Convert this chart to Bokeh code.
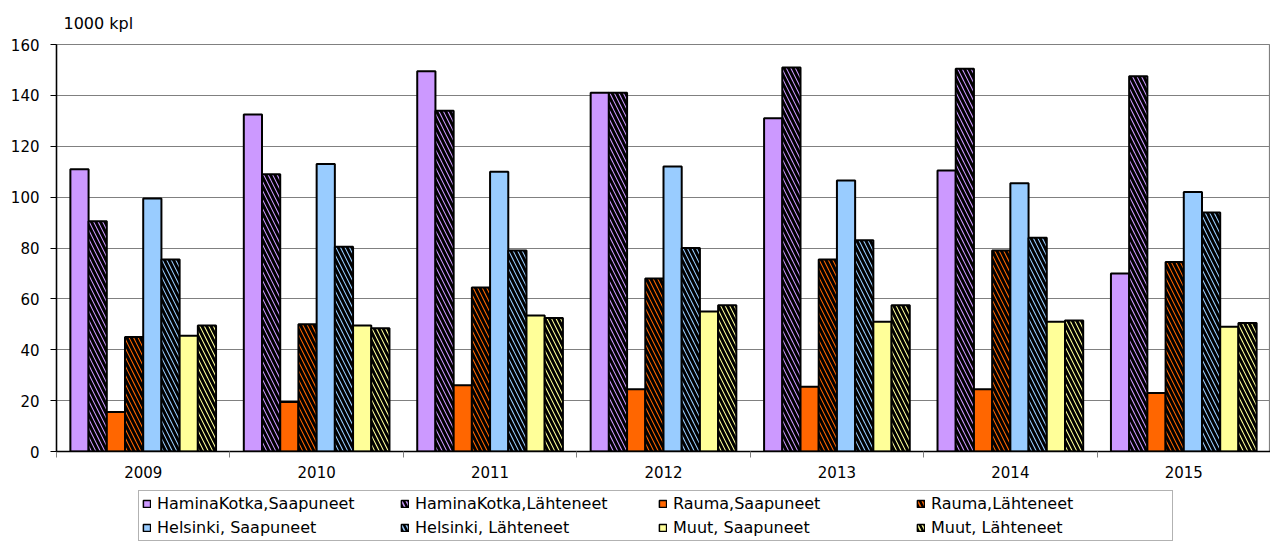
from bokeh.plotting import figure
from bokeh.layouts import column
from bokeh.models import (ColumnDataSource, Range1d, FixedTicker, Legend, LegendItem, Title)
from bokeh.transform import dodge
from bokeh.embed import file_html
from bokeh.resources import INLINE

years = ["2009", "2010", "2011", "2012", "2013", "2014", "2015"]
hk_saap = [111, 132.5, 149.5, 141, 131, 110.5, 70]
hk_laht = [90.5, 109, 134, 141, 151, 150.5, 147.5]
rauma_saap = [15.5, 19.5, 26, 24.5, 25.5, 24.5, 23]
rauma_laht = [45, 50, 64.5, 68, 75.5, 79, 74.5]
hel_saap = [99.5, 113, 110, 112, 106.5, 105.5, 102]
hel_laht = [75.5, 80.5, 79, 80, 83, 84, 94]
muut_saap = [45.5, 49.5, 53.5, 55, 51, 51, 49]
muut_laht = [49.5, 48.5, 52.5, 57.5, 57.5, 51.5, 50.5]

series = [
    ("HaminaKotka,Saapuneet", hk_saap, "#CC99FF", False),
    ("HaminaKotka,Lähteneet", hk_laht, "#CC99FF", True),
    ("Rauma,Saapuneet", rauma_saap, "#FF6600", False),
    ("Rauma,Lähteneet", rauma_laht, "#FF6600", True),
    ("Helsinki, Saapuneet", hel_saap, "#99CCFF", False),
    ("Helsinki, Lähteneet", hel_laht, "#99CCFF", True),
    ("Muut, Saapuneet", muut_saap, "#FFFF99", False),
    ("Muut, Lähteneet", muut_laht, "#FFFF99", True),
]

xc = [i + 0.5 for i in range(len(years))]
data = {"xc": xc}
for k, (name, vals, col, h) in enumerate(series):
    data["s%d" % k] = vals
src = ColumnDataSource(data)

FONT = "DejaVu Sans"
W = 1270

p = figure(width=W, height=483, output_backend="svg", toolbar_location=None,
           x_range=Range1d(0, len(years)), y_range=Range1d(0, 160),
           min_border_left=56, min_border_right=0, min_border_top=42, min_border_bottom=32)

p.title = Title(text="1000 kpl", align="left", offset=7, standoff=23,
                text_font=FONT, text_font_size="16px", text_font_style="normal",
                text_color="black")

bw = 0.105
HATCH = dict(hatch_pattern="\\", hatch_color="black", hatch_weight=3, hatch_scale=9)
for k, (name, vals, col, hatched) in enumerate(series):
    kw = dict(x=dodge("xc", (k - 3.5) * bw, range=p.x_range), top="s%d" % k, bottom=0,
              width=bw, source=src, fill_color=col, line_color="black", line_width=2)
    if hatched:
        kw.update(HATCH)
    p.vbar(**kw)

p.xgrid.visible = False
p.ygrid.grid_line_color = "#808080"
p.ygrid.grid_line_width = 1.2
p.outline_line_color = "#808080"
p.outline_line_width = 1.2

p.yaxis.ticker = FixedTicker(ticks=list(range(0, 161, 20)))
p.yaxis.axis_line_color = "black"
p.yaxis.axis_line_width = 1.5
p.yaxis.major_tick_out = 6
p.yaxis.major_tick_in = 0
p.yaxis.minor_tick_line_color = None
p.yaxis.major_label_standoff = 11
p.yaxis.major_label_text_font = FONT
p.yaxis.major_label_text_font_size = "15px"
p.yaxis.major_label_text_color = "black"

p.xaxis.ticker = FixedTicker(ticks=xc, minor_ticks=list(range(len(years) + 1)))
p.xaxis.major_label_overrides = {x: y for x, y in zip(xc, years)}
p.xaxis.major_tick_line_color = None
p.xaxis.major_tick_out = 0
p.xaxis.major_tick_in = 0
p.xaxis.minor_tick_out = 6
p.xaxis.minor_tick_in = 0
p.xaxis.minor_tick_line_color = "#808080"
p.xaxis.axis_line_color = "black"
p.xaxis.axis_line_width = 1.5
p.xaxis.major_label_standoff = 8
p.xaxis.major_label_text_font = FONT
p.xaxis.major_label_text_font_size = "15px"
p.xaxis.major_label_text_color = "black"

# legend strip below the chart (legend proxies share the data but are hidden)
p2 = figure(width=W, height=58, output_backend="svg", toolbar_location=None,
            x_range=Range1d(0, len(years)), y_range=Range1d(0, 160),
            x_axis_location=None, y_axis_location=None,
            min_border_left=0, min_border_right=0, min_border_top=0, min_border_bottom=0)
p2.grid.visible = False
p2.outline_line_color = None
items = []
for k, (name, vals, col, hatched) in enumerate(series):
    kw = dict(x="xc", top="s%d" % k, bottom=0, width=bw, source=src,
              fill_color=col, line_color="black", line_width=1.5, visible=False)
    if hatched:
        kw.update(hatch_pattern="\\", hatch_color="black", hatch_weight=2.5, hatch_scale=9)
    r = p2.vbar(**kw)
    items.append(LegendItem(label=name, renderers=[r]))

legend = Legend(items=items, orientation="horizontal", ncols=4, location=(82, 0),
                label_text_font=FONT, label_text_font_size="16px", label_text_color="black",
                glyph_width=9, glyph_height=9, label_standoff=6, label_width=238,
                label_height=18, spacing=5, padding=3, margin=0,
                border_line_color="#666666", border_line_width=1.5,
                background_fill_color="white", background_fill_alpha=1,
                inactive_fill_alpha=0)
p2.add_layout(legend, "center")

layout = column(p, p2, spacing=0)
open("out.html", "w").write(file_html(layout, INLINE))
